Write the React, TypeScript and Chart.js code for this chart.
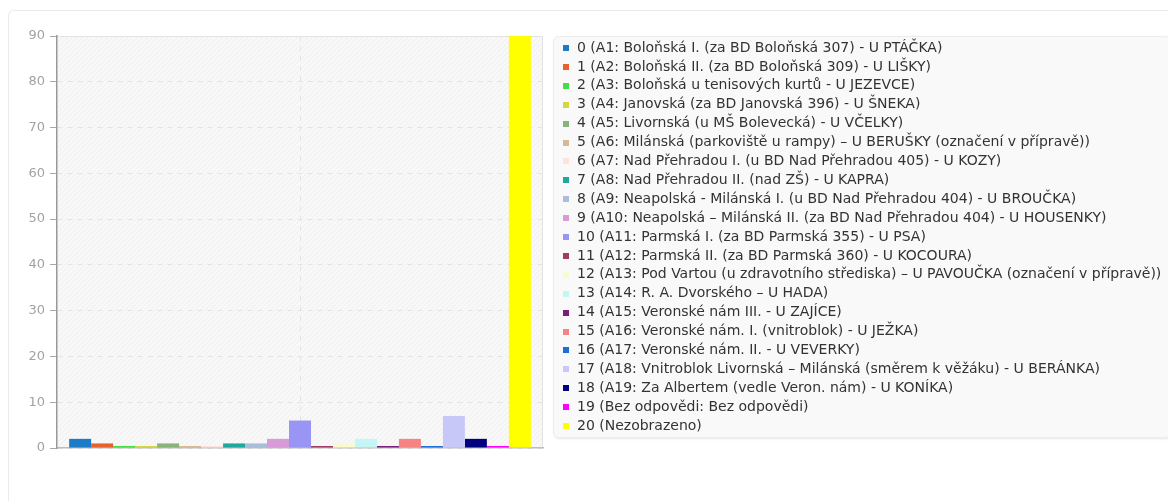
import React, { useEffect, useRef } from "react";
import { Chart, registerables } from "chart.js";

Chart.register(...registerables);

const categories = [""];

const seriesLabels = [
  "0 (A1: Boloňská I. (za BD Boloňská 307) - U PTÁČKA)",
  "1 (A2: Boloňská II. (za BD Boloňská 309) - U LIŠKY)",
  "2 (A3: Boloňská u tenisových kurtů - U JEZEVCE)",
  "3 (A4: Janovská (za BD Janovská 396) - U ŠNEKA)",
  "4 (A5: Livornská (u MŠ Bolevecká) - U VČELKY)",
  "5 (A6: Milánská (parkoviště u rampy) – U BERUŠKY (označení v přípravě))",
  "6 (A7: Nad Přehradou I. (u BD Nad Přehradou 405) - U KOZY)",
  "7 (A8: Nad Přehradou II. (nad ZŠ) - U KAPRA)",
  "8 (A9: Neapolská - Milánská I. (u BD Nad Přehradou 404) - U BROUČKA)",
  "9 (A10: Neapolská – Milánská II. (za BD Nad Přehradou 404) - U HOUSENKY)",
  "10 (A11: Parmská I. (za BD Parmská 355) - U PSA)",
  "11 (A12: Parmská II. (za BD Parmská 360) - U KOCOURA)",
  "12 (A13: Pod Vartou (u zdravotního střediska) – U PAVOUČKA (označení v přípravě))",
  "13 (A14: R. A. Dvorského – U HADA)",
  "14 (A15: Veronské nám III. - U ZAJÍCE)",
  "15 (A16: Veronské nám. I. (vnitroblok) - U JEŽKA)",
  "16 (A17: Veronské nám. II. - U VEVERKY)",
  "17 (A18: Vnitroblok Livornská – Milánská (směrem k věžáku) - U BERÁNKA)",
  "18 (A19: Za Albertem (vedle Veron. nám) - U KONÍKA)",
  "19 (Bez odpovědi: Bez odpovědi)",
  "20 (Nezobrazeno)",
];

const seriesValues = [2, 1, 0, 0, 1, 0, 0, 1, 1, 2, 6, 0, 1, 2, 0, 2, 0, 7, 2, 0, 150];

const seriesColors = [
  "#1b7bc6", "#e8602c", "#44dd44", "#d6d640", "#88b47c", "#d8b896", "#fde2de",
  "#1fa89e", "#a8bedc", "#d99ad9", "#9895f4", "#a33a66", "#fafad0", "#c4f6f6",
  "#7a1f7a", "#f88383", "#1c6fd6", "#c8c8f8", "#000080", "#ff00ff", "#ffff00",
];

const yTicks = [0, 10, 20, 30, 40, 50, 60, 70, 80, 90];

const W = 1164;
const H = 470;
const AREA = { left: 48, right: 534, top: 25, bottom: 437 };
const FONT = '"DejaVu Sans", sans-serif';

function makeHatch(): CanvasPattern | null {
  const c = document.createElement("canvas");
  c.width = 5;
  c.height = 5;
  const g = c.getContext("2d");
  if (!g) return null;
  g.fillStyle = "#f8f8f8";
  g.fillRect(0, 0, 5, 5);
  g.strokeStyle = "#efefef";
  g.lineWidth = 1;
  g.beginPath();
  g.moveTo(-1, 6);
  g.lineTo(6, -1);
  g.stroke();
  g.beginPath();
  g.moveTo(-1, 1);
  g.lineTo(1, -1);
  g.moveTo(4, 6);
  g.lineTo(6, 4);
  g.stroke();
  return g.createPattern(c, "repeat");
}

function roundRect(ctx: CanvasRenderingContext2D, x: number, y: number, w: number, h: number, r: number) {
  ctx.beginPath();
  ctx.moveTo(x + r, y);
  ctx.lineTo(x + w - r, y);
  ctx.quadraticCurveTo(x + w, y, x + w, y + r);
  ctx.lineTo(x + w, y + h - r);
  ctx.quadraticCurveTo(x + w, y + h, x + w - r, y + h);
  ctx.lineTo(x + r, y + h);
  ctx.quadraticCurveTo(x, y + h, x, y + h - r);
  ctx.lineTo(x, y + r);
  ctx.quadraticCurveTo(x, y, x + r, y);
  ctx.closePath();
}

const backgroundPlugin = {
  id: "plotBackground",
  beforeDraw(chart: any) {
    const { ctx, chartArea } = chart;
    const { left, right, top, bottom } = chartArea;
    ctx.save();
    const pat = makeHatch();
    ctx.fillStyle = pat || "#f8f8f8";
    ctx.fillRect(left, top, right - left, bottom - top);
    ctx.strokeStyle = "#e2e2e2";
    ctx.lineWidth = 1;
    ctx.beginPath();
    ctx.moveTo(left, top + 0.5);
    ctx.lineTo(right - 0.5, top + 0.5);
    ctx.lineTo(right - 0.5, bottom);
    ctx.stroke();
    ctx.restore();
  },
};

const legendPlugin = {
  id: "boxLegend",
  afterDraw(chart: any) {
    const ctx: CanvasRenderingContext2D = chart.ctx;
    const x0 = 544.5;
    const y0 = 25.5;
    const w = 617;
    const h = 401;
    ctx.save();
    ctx.shadowColor = "rgba(0,0,0,0.13)";
    ctx.shadowBlur = 3;
    ctx.shadowOffsetX = 1;
    ctx.shadowOffsetY = 1;
    roundRect(ctx, x0, y0, w, h, 6);
    ctx.fillStyle = "#f9f9f9";
    ctx.fill();
    ctx.restore();
    ctx.save();
    roundRect(ctx, x0, y0, w, h, 6);
    ctx.strokeStyle = "#ececec";
    ctx.lineWidth = 1;
    ctx.stroke();
    ctx.font = "14px " + FONT;
    ctx.textBaseline = "middle";
    ctx.textAlign = "left";
    chart.data.datasets.forEach((ds: any, i: number) => {
      const y = 37 + i * 18.9;
      ctx.fillStyle = ds.backgroundColor;
      ctx.fillRect(554, Math.round(y) - 3, 6, 6);
      ctx.fillStyle = "#333333";
      ctx.fillText(ds.label, 568, y);
    });
    ctx.restore();
  },
};

export default function App() {
  const canvasRef = useRef<HTMLCanvasElement | null>(null);

  useEffect(() => {
    const canvas = canvasRef.current;
    if (!canvas) return;
    const chart = new Chart(canvas, {
      type: "bar",
      data: {
        labels: categories,
        datasets: seriesLabels.map((label, i) => ({
          label,
          data: [seriesValues[i]],
          backgroundColor: seriesColors[i],
          borderWidth: 0,
          categoryPercentage: 0.95,
          barPercentage: 1,
          minBarLength: 2,
        })),
      },
      options: {
        responsive: false,
        animation: false,
        events: [],
        layout: {
          padding: { top: AREA.top, right: W - AREA.right, left: 0, bottom: 0 },
        },
        plugins: {
          legend: { display: false },
          tooltip: { enabled: false },
          title: { display: false },
        },
        scales: {
          x: {
            type: "category",
            offset: true,
            ticks: { display: false },
            grid: {
              offset: false,
              color: "#e4e4e4",
              drawTicks: false,
              lineWidth: 1,
            },
            border: { display: true, color: "#bdbdbd", width: 1.5, dash: [5, 5] },
            afterFit: (s: any) => {
              s.height = H - AREA.bottom;
            },
          },
          y: {
            min: 0,
            max: 90,
            afterBuildTicks: (s: any) => {
              s.ticks = yTicks.map((v) => ({ value: v }));
            },
            ticks: {
              color: "#a3a3a3",
              font: { family: FONT, size: 13 },
              padding: 5,
            },
            grid: {
              color: "#e4e4e4",
              tickColor: "#aaaaaa",
              tickLength: 7,
              tickBorderDash: [],
              lineWidth: 1,
            },
            border: { display: true, color: "#999999", width: 1.5, dash: [5, 5] },
            afterFit: (s: any) => {
              s.width = AREA.left;
            },
          },
        },
      },
      plugins: [backgroundPlugin, legendPlugin],
    });
    return () => chart.destroy();
  }, []);

  return (
    <div
      style={{
        position: "relative",
        top: 2,
        width: 1190,
        height: 520,
        border: "1px solid #ebebeb",
        borderRight: "none",
        borderRadius: "6px 0 0 6px",
        boxSizing: "border-box",
        background: "#ffffff",
      }}
    >
      <canvas
        ref={canvasRef}
        width={W}
        height={H}
        style={{ position: "absolute", left: 0, top: 0, width: W, height: H, display: "block" }}
      />
    </div>
  );
}
